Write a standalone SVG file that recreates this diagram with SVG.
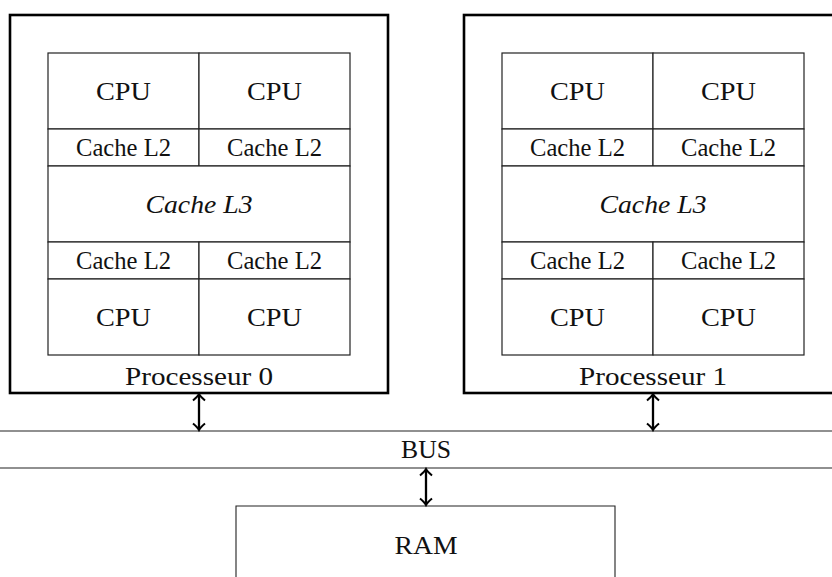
<svg xmlns="http://www.w3.org/2000/svg" width="832" height="577" viewBox="0 0 832 577">
<style>
.outer{fill:none;stroke:#000;stroke-width:2.6}
.cell{fill:#fff;stroke:#222;stroke-width:1.2}
.bus{stroke:#222;stroke-width:1.1;fill:none}
.arr{stroke:#000;stroke-width:2.3;fill:none;marker-start:url(#ah);marker-end:url(#ah)}
text{font-family:"Liberation Serif","Times New Roman",serif;font-size:26px;fill:#111;text-anchor:middle}
.it{font-style:italic}
</style>
<defs>
<marker id="ah" viewBox="-7 -7 14 14" markerWidth="14" markerHeight="14" refX="0" refY="0" orient="auto-start-reverse" markerUnits="userSpaceOnUse">
<path d="M-5.5,-6 Q-1.5,-1.3 1,0 Q-1.5,1.3 -5.5,6" fill="none" stroke="#000" stroke-width="2"/>
</marker>
</defs>
<rect width="832" height="577" fill="#fff"/>
<g id="proc0">
<rect class="outer" x="10" y="15" width="378" height="378"/>
<rect class="cell" x="48" y="53" width="151" height="76"/>
<rect class="cell" x="199" y="53" width="151" height="76"/>
<rect class="cell" x="48" y="129" width="151" height="37"/>
<rect class="cell" x="199" y="129" width="151" height="37"/>
<rect class="cell" x="48" y="166" width="302" height="76"/>
<rect class="cell" x="48" y="242" width="151" height="37"/>
<rect class="cell" x="199" y="242" width="151" height="37"/>
<rect class="cell" x="48" y="279" width="151" height="76"/>
<rect class="cell" x="199" y="279" width="151" height="76"/>
<text x="123.5" y="100" textLength="55" lengthAdjust="spacingAndGlyphs">CPU</text>
<text x="274.5" y="100" textLength="55" lengthAdjust="spacingAndGlyphs">CPU</text>
<text x="123.5" y="156" textLength="95" lengthAdjust="spacingAndGlyphs">Cache L2</text>
<text x="274.5" y="156" textLength="95" lengthAdjust="spacingAndGlyphs">Cache L2</text>
<text class="it" x="199" y="213" textLength="107" lengthAdjust="spacingAndGlyphs">Cache L3</text>
<text x="123.5" y="269" textLength="95" lengthAdjust="spacingAndGlyphs">Cache L2</text>
<text x="274.5" y="269" textLength="95" lengthAdjust="spacingAndGlyphs">Cache L2</text>
<text x="123.5" y="326" textLength="55" lengthAdjust="spacingAndGlyphs">CPU</text>
<text x="274.5" y="326" textLength="55" lengthAdjust="spacingAndGlyphs">CPU</text>
<text x="199" y="385" textLength="148" lengthAdjust="spacingAndGlyphs">Processeur 0</text>
</g>
<g id="proc1">
<rect class="outer" x="464" y="15" width="378" height="378"/>
<rect class="cell" x="502" y="53" width="151" height="76"/>
<rect class="cell" x="653" y="53" width="151" height="76"/>
<rect class="cell" x="502" y="129" width="151" height="37"/>
<rect class="cell" x="653" y="129" width="151" height="37"/>
<rect class="cell" x="502" y="166" width="302" height="76"/>
<rect class="cell" x="502" y="242" width="151" height="37"/>
<rect class="cell" x="653" y="242" width="151" height="37"/>
<rect class="cell" x="502" y="279" width="151" height="76"/>
<rect class="cell" x="653" y="279" width="151" height="76"/>
<text x="577.5" y="100" textLength="55" lengthAdjust="spacingAndGlyphs">CPU</text>
<text x="728.5" y="100" textLength="55" lengthAdjust="spacingAndGlyphs">CPU</text>
<text x="577.5" y="156" textLength="95" lengthAdjust="spacingAndGlyphs">Cache L2</text>
<text x="728.5" y="156" textLength="95" lengthAdjust="spacingAndGlyphs">Cache L2</text>
<text class="it" x="653" y="213" textLength="107" lengthAdjust="spacingAndGlyphs">Cache L3</text>
<text x="577.5" y="269" textLength="95" lengthAdjust="spacingAndGlyphs">Cache L2</text>
<text x="728.5" y="269" textLength="95" lengthAdjust="spacingAndGlyphs">Cache L2</text>
<text x="577.5" y="326" textLength="55" lengthAdjust="spacingAndGlyphs">CPU</text>
<text x="728.5" y="326" textLength="55" lengthAdjust="spacingAndGlyphs">CPU</text>
<text x="653" y="385" textLength="148" lengthAdjust="spacingAndGlyphs">Processeur 1</text>
</g>
<g id="bus">
<line class="bus" x1="0" y1="431" x2="832" y2="431"/>
<line class="bus" x1="0" y1="468" x2="832" y2="468"/>
<text x="426" y="458" textLength="50" lengthAdjust="spacingAndGlyphs">BUS</text>
</g>
<g id="ram">
<path class="bus" d="M236,580 V506 H615 V580"/>
<text x="426" y="554" textLength="63" lengthAdjust="spacingAndGlyphs">RAM</text>
</g>
<g id="connectors">
<line class="arr" x1="199" y1="395" x2="199" y2="429"/>
<line class="arr" x1="653" y1="395" x2="653" y2="429"/>
<line class="arr" x1="426" y1="470" x2="426" y2="504"/>
</g>
</svg>
